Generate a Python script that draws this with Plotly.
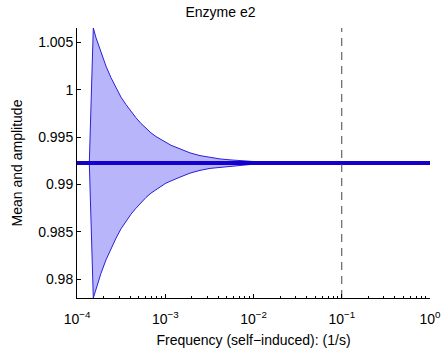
import plotly.graph_objects as go

# ---- data ----
title = "Enzyme e2"
x_label = "Frequency (self\u2212induced): (1/s)"
y_label = "Mean and amplitude"

mean_value = 0.99227
log_freq = [-3.8606, -3.8153, -3.7847, -3.7280, -3.6714, -3.6147, -3.5581,
            -3.5014, -3.4448, -3.3881, -3.3314, -3.2748, -3.2181, -3.1615,
            -3.1048, -3.0482, -2.9915, -2.9348, -2.8782, -2.8329, -2.7195,
            -2.6062, -2.4929, -2.3796, -2.2663, -2.1530, -2.0397, -1.8697,
            -1.6997, -1.4731, 0.0]
amplitude = [0.0, 0.01425, 0.01322, 0.01164, 0.01022, 0.00900, 0.00794,
             0.00695, 0.00617, 0.00540, 0.00477, 0.00417, 0.00364, 0.00318,
             0.00279, 0.00247, 0.00212, 0.00187, 0.00166, 0.00149, 0.00107,
             0.00078, 0.00057, 0.00043, 0.00033, 0.00025, 0.00016, 0.00007,
             0.00003, 0.0, 0.0]
mean_freq = [1e-4, 1.0]
marker_freq = 0.1

x_tickvals = [1e-4, 1e-3, 1e-2, 1e-1, 1e0]
x_ticktext = ["10<sup>\u22124</sup>", "10<sup>\u22123</sup>", "10<sup>\u22122</sup>",
              "10<sup>\u22121</sup>", "10<sup>0</sup>"]
y_tickvals = [0.98, 0.985, 0.99, 0.995, 1.0, 1.005]
y_ticktext = ["0.98", "0.985", "0.99", "0.995", "1", "1.005"]
y_range = [0.97802, 1.00652]

freq = [10 ** v for v in log_freq]
upper = [mean_value + a for a in amplitude]
lower = [mean_value - a for a in amplitude]

fig = go.Figure()
fig.add_trace(go.Scatter(
    x=freq + freq[::-1], y=upper + lower[::-1],
    fill="toself", fillcolor="#b9b5fb", mode="lines",
    line=dict(color="#2b1fd6", width=1), hoverinfo="skip", showlegend=False))
fig.add_trace(go.Scatter(
    x=mean_freq, y=[mean_value, mean_value], mode="lines",
    line=dict(color="#1400cc", width=4), showlegend=False))
fig.add_trace(go.Scatter(
    x=[marker_freq, marker_freq], y=y_range, mode="lines",
    line=dict(color="#444444", width=1, dash="8px,6px"), showlegend=False))

font = "Liberation Sans, Arial, Helvetica, sans-serif"
fig.update_layout(
    width=441, height=355,
    margin=dict(l=77, r=11, t=28, b=57),
    paper_bgcolor="white", plot_bgcolor="white",
    font=dict(family=font, size=14, color="#000000"),
    title=dict(text=title, x=0.5, xanchor="center", y=1 - 12 / 355, yanchor="middle",
               font=dict(size=14, family=font)),
)
fig.update_xaxes(
    type="log", range=[-4, 0], tickvals=x_tickvals, ticktext=x_ticktext,
    showline=True, linecolor="black", linewidth=1, ticks="inside", ticklen=4,
    tickcolor="black", showgrid=False, zeroline=False, mirror=False,
    minor=dict(ticks="inside", ticklen=2, tickcolor="black", showgrid=False, dtick="D1"),
    ticklabeloverflow="allow", ticklabelstandoff=8, automargin=False,
    title=dict(text=x_label, standoff=9, font=dict(size=14)),
    tickfont=dict(size=14),
)
fig.update_yaxes(
    range=y_range, tickvals=y_tickvals, ticktext=y_ticktext,
    showline=True, linecolor="black", linewidth=1, ticks="inside", ticklen=4,
    tickcolor="black", showgrid=False, zeroline=False, mirror=False,
    automargin=False,
    title=dict(text=y_label, standoff=12, font=dict(size=14)),
    tickfont=dict(size=14),
)

fig.write_html("out.html")
